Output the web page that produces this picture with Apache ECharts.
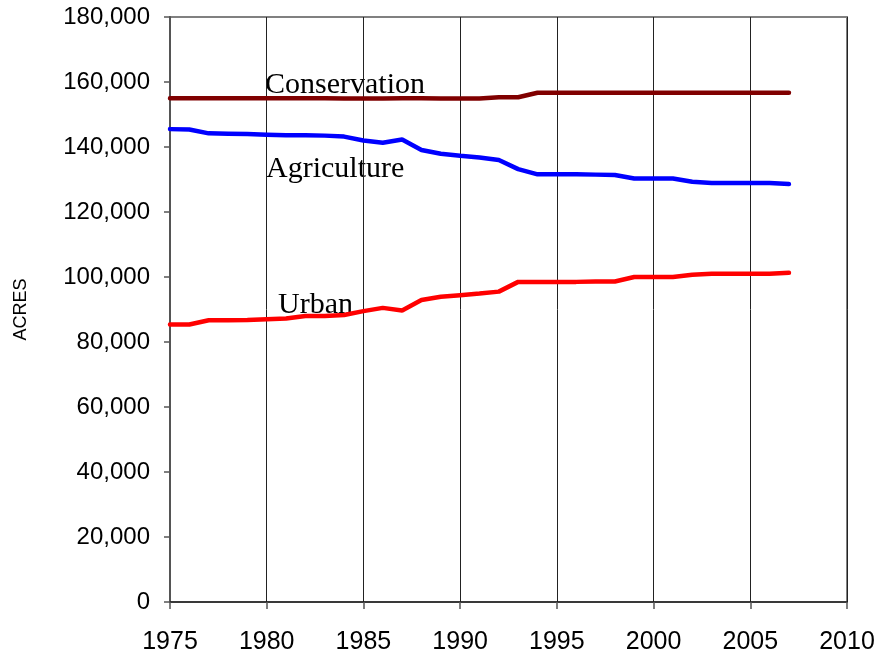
<!DOCTYPE html>
<html>
<head>
<meta charset="utf-8">
<script src="https://cdn.jsdelivr.net/npm/echarts@6/dist/echarts.min.js"></script>
<style>
  html, body { margin: 0; padding: 0; background: #fff; }
  #chart { width: 879px; height: 660px; }
</style>
</head>
<body>
<div id="chart"></div>
<script>
/* datos */
var years = [1975, 1976, 1977, 1978, 1979, 1980, 1981, 1982, 1983, 1984, 1985,
  1986, 1987, 1988, 1989, 1990, 1991, 1992, 1993, 1994, 1995, 1996, 1997,
  1998, 1999, 2000, 2001, 2002, 2003, 2004, 2005, 2006, 2007];

var conservation = [155000, 155000, 155000, 155000, 155000, 155000, 155000,
  155000, 155000, 154900, 154900, 154900, 155000, 155000, 154900, 154900,
  154900, 155300, 155300, 156700, 156700, 156700, 156700, 156700, 156700,
  156700, 156700, 156700, 156700, 156700, 156700, 156700, 156700];

var agriculture = [145500, 145400, 144200, 144100, 144000, 143800, 143600,
  143600, 143500, 143200, 142000, 141300, 142300, 139100, 137900, 137300,
  136800, 136000, 133200, 131600, 131600, 131600, 131500, 131400, 130300,
  130300, 130300, 129300, 128900, 128900, 128900, 128900, 128600];

var urban = [85400, 85400, 86700, 86700, 86800, 87000, 87200, 88000, 88000,
  88300, 89500, 90500, 89700, 92900, 93900, 94400, 94900, 95500, 98500,
  98500, 98500, 98500, 98600, 98600, 100000, 100000, 100000, 100700, 101000,
  101000, 101000, 101000, 101300];

var seriesNames = ["Conservation", "Agriculture", "Urban"];
var seriesColors = ["#800000", "#0000ff", "#ff0000"];

function pairs(vals) {
  return years.map(function (y, i) { return [y, vals[i]]; });
}

var chartDom = document.getElementById("chart");
var myChart = echarts.init(chartDom);

var serif = "'Liberation Serif', 'DejaVu Serif', serif";
var sans = "'Liberation Sans', Arial, sans-serif";

var option = {
  animation: false,
  grid: {
    left: 170, right: 32, top: 17, bottom: 58,
    show: true, borderColor: "#808080", borderWidth: 2
  },
  xAxis: {
    type: "value",
    min: 1975, max: 2010, interval: 5,
    axisLine: { onZero: false, lineStyle: { color: "#222", width: 1.5 } },
    axisTick: { show: true, length: 7, lineStyle: { color: "#555", width: 1.5 } },
    splitLine: { show: true, lineStyle: { color: "#222", width: 1 } },
    axisLabel: {
      color: "#000", fontSize: 25, fontFamily: sans, margin: 28,
      formatter: function (v) { return String(v); }
    }
  },
  yAxis: {
    type: "value",
    min: 0, max: 180000, interval: 20000,
    name: "ACRES",
    nameLocation: "middle",
    nameGap: 140,
    nameTextStyle: { color: "#000", fontSize: 18, fontFamily: sans },
    axisLine: { show: true, lineStyle: { color: "#555", width: 2 } },
    axisTick: { show: true, length: 6, lineStyle: { color: "#555", width: 1.5 } },
    splitLine: { show: false },
    axisLabel: {
      color: "#000", fontSize: 24, fontFamily: sans, margin: 20,
      formatter: function (v) { return v.toLocaleString("en-US"); }
    }
  },
  series: [conservation, agriculture, urban].map(function (vals, i) {
    return {
      name: seriesNames[i],
      type: "line",
      data: pairs(vals),
      symbol: "none",
      lineStyle: { color: seriesColors[i], width: 4.5, cap: "round" },
      z: 3
    };
  }),
  graphic: [
    { type: "text", left: 265, top: 70,
      style: { text: "Conservation", font: "30px " + serif, fill: "#000" } },
    { type: "text", left: 266, top: 154,
      style: { text: "Agriculture", font: "30px " + serif, fill: "#000" } },
    { type: "text", left: 278, top: 290,
      style: { text: "Urban", font: "30px " + serif, fill: "#000" } }
  ]
};

myChart.setOption(option);
</script>
</body>
</html>
